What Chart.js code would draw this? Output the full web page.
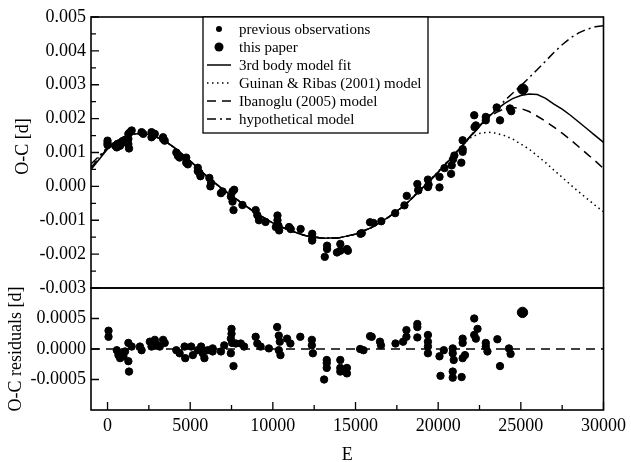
<!DOCTYPE html>
<html><head><meta charset="utf-8">
<script src="https://cdn.jsdelivr.net/npm/chart.js@4/dist/chart.umd.min.js"></script>
<style>html,body{margin:0;padding:0;background:#fff}canvas{display:block}</style>
</head><body>
<canvas id="c" width="631" height="462"></canvas>
<script>
// ---- data ----
const prevE = [0,0,0,460,560,660,760,860,960,1060,1260,1260,1260,1300,1360,1460,2060,2160,2660,2660,2760,2860,3360,3360,3460,
  4160,4260,4360,4760,4760,4860,5460,5460,5560,5620,6160,6260,6220,6860,6960,7460,7560,7560,7620,7660,8160,8960,9060,9160,9560,
  10180,10280,10280,10340,10380,10980,11080,11680,12380,12380,12380,13140,13280,13280,13880,14080,14080,14480,14540,
  15300,15380,15880,16080,16560,17400,17960,18100,18740,18800,18800,19380,19380,19420,20080,20080,20380,20780,20820,20900,20980,
  21400,21480,21480,21480,22180,22280,22200,22880,22880,23540,23740,24340,24420];
const prevOC = [0.00135,0.00128,0.00122,0.00120,0.00115,0.00125,0.00120,0.00130,0.00135,0.00130,0.00155,0.00140,0.00125,0.00112,0.00160,0.00165,0.00160,0.00155,0.00160,0.00145,0.00150,0.00155,0.00145,0.00140,0.00135,
  0.00100,0.00090,0.00085,0.00085,0.00070,0.00065,0.00055,0.00045,0.00040,0.00030,0.00025,0.00010,0.00000,-0.00020,-0.00015,-0.00030,-0.00015,-0.00045,-0.00070,-0.00010,-0.00055,-0.00070,-0.00085,-0.00100,-0.00105,
  -0.00120,-0.00086,-0.00100,-0.00116,-0.00130,-0.00120,-0.00126,-0.00126,-0.00140,-0.00155,-0.00160,-0.00208,-0.00175,-0.00185,-0.00195,-0.00170,-0.00190,-0.00185,-0.00190,
  -0.00140,-0.00138,-0.00106,-0.00108,-0.00103,-0.00079,-0.00056,-0.00028,0.00007,-0.00010,-0.00012,0.00020,-0.00002,0.00005,0.00028,-0.00003,0.00054,0.00037,0.00062,0.00080,0.00091,
  0.00070,0.00102,0.00110,0.00136,0.00210,0.00180,0.00175,0.00205,0.00195,0.00233,0.00195,0.00230,0.00222];
const paperE = [25120];
const paperOC = [0.00287];

const resE = [60,60,560,660,760,860,960,1060,1260,1260,1300,1460,1960,2060,2560,2660,2860,2960,3160,3360,3460,
  4160,4360,4660,4700,5060,5160,5460,5660,5760,5860,6060,6360,6360,6860,7060,7500,7500,7460,7460,7540,7620,7760,8060,8260,
  8960,9060,9260,9760,10260,10360,10360,10420,10460,10860,11060,11660,12360,12360,12420,13100,13260,13260,13260,
  14080,14080,14080,14480,14480,15280,15480,15880,15980,16480,16540,17420,17880,18080,18080,18740,18740,18740,
  19380,19380,19380,19380,20080,20140,20340,20880,20880,20880,20880,20940,21420,21480,21480,21480,21620,
  22180,22180,22380,22280,22880,22880,22980,23580,23740,24280,24380];
const resOC = [0.00030,0.00020,-0.00002,-0.00010,-0.00015,-0.00007,-0.00012,-0.00004,0.00010,-0.00020,-0.00037,0.00004,0.00004,-0.00002,0.00012,0.00004,0.00015,0.00007,0.00004,0.00015,0.00010,
  -0.00002,-0.00007,0.00004,-0.00015,0.00004,-0.00010,-0.00002,0.00004,-0.00007,-0.00015,-0.00002,0.00001,-0.00004,-0.00004,0.00006,0.00033,0.00025,0.00017,-0.00007,0.00010,-0.00028,0.00009,0.00009,0.00004,
  0.00020,0.00009,0.00004,0.00001,0.00036,0.00022,-0.00002,0.00012,-0.00010,0.00017,0.00009,0.00020,0.00015,0.00006,-0.00007,-0.00050,-0.00018,-0.00023,-0.00031,
  -0.00018,-0.00031,-0.00037,-0.00031,-0.00040,0.00000,-0.00002,0.00021,0.00020,0.00012,0.00006,0.00009,0.00012,0.00020,0.00031,0.00041,0.00036,0.00019,
  0.00023,0.00012,0.00004,-0.00007,-0.00012,-0.00044,-0.00002,0.00001,-0.00007,-0.00037,-0.00047,-0.00018,-0.00046,0.00017,0.00010,-0.00015,-0.00010,
  0.00050,0.00023,0.00033,0.00017,0.00010,0.00004,-0.00004,0.00016,-0.00028,0.00001,-0.00008];
const paperResE = [25100];
const paperRes = [0.00060];

const modelE = [-1000,-500,0,500,1000,1500,2000,2500,3000,3500,4000,4500,5000,6000,7000,8000,9000,10000,11000,12000,13000,14000,15000,16000,17000,18000,
  18500,19000,19500,20000,20500,21000,21500,22000,22500,23000,23500,24000,24500,25000,25500,26000,26500,27000,27500,28000,28500,29000,29500,30000];
const fit3rd = [0.00050,0.00080,0.00110,0.00132,0.00146,0.00154,0.00156,0.00153,0.00145,0.00133,0.00116,0.00096,0.00075,0.00030,-0.00010,-0.00045,-0.00080,-0.00108,-0.00130,-0.00146,-0.00153,-0.00152,-0.00141,-0.00121,-0.00091,-0.00055,
  -0.00031,-0.00007,0.00017,0.00042,0.00068,0.00095,0.00122,0.00150,0.00177,0.00203,0.00225,0.00244,0.00259,0.00268,0.00273,0.00271,0.00260,0.00243,0.00228,0.00210,0.00190,0.00170,0.00150,0.00130];
const guinanRibas = [0.00060,0.00088,0.00114,0.00133,0.00146,0.00154,0.00156,0.00153,0.00145,0.00133,0.00116,0.00096,0.00075,0.00030,-0.00010,-0.00045,-0.00080,-0.00108,-0.00130,-0.00146,-0.00153,-0.00152,-0.00141,-0.00121,-0.00091,-0.00055,
  -0.00030,-0.00006,0.00019,0.00044,0.00071,0.00097,0.00125,0.00145,0.00156,0.00160,0.00157,0.00150,0.00140,0.00125,0.00110,0.00090,0.00070,0.00048,0.00027,0.00005,-0.00016,-0.00036,-0.00056,-0.00075];
const ibanoglu = [0.00056,0.00084,0.00112,0.00133,0.00146,0.00154,0.00156,0.00153,0.00145,0.00133,0.00116,0.00096,0.00075,0.00030,-0.00010,-0.00045,-0.00080,-0.00108,-0.00130,-0.00146,-0.00153,-0.00152,-0.00141,-0.00121,-0.00091,-0.00055,
  -0.00031,-0.00007,0.00017,0.00042,0.00068,0.00095,0.00122,0.00150,0.00176,0.00200,0.00218,0.00229,0.00233,0.00230,0.00221,0.00207,0.00192,0.00175,0.00157,0.00138,0.00117,0.00096,0.00075,0.00053];
const hypothetical = [0.00066,0.00090,0.00115,0.00134,0.00147,0.00155,0.00156,0.00153,0.00145,0.00133,0.00116,0.00096,0.00075,0.00030,-0.00010,-0.00045,-0.00080,-0.00108,-0.00130,-0.00146,-0.00153,-0.00152,-0.00141,-0.00121,-0.00091,-0.00055,
  -0.00031,-0.00007,0.00017,0.00042,0.00068,0.00095,0.00123,0.00152,0.00179,0.00205,0.00228,0.00252,0.00275,0.00297,0.00321,0.00345,0.00370,0.00395,0.00418,0.00438,0.00453,0.00464,0.00471,0.00474];

const xTicks = [0,5000,10000,15000,20000,25000,30000];
const ocTicks = [-0.003,-0.002,-0.001,0,0.001,0.002,0.003,0.004,0.005];
const resTicks = [-0.0005,0,0.0005];
const legendLabels = ['previous observations','this paper','3rd body model fit','Guinan & Ribas (2001) model','Ibanoglu (2005) model','hypothetical model'];
const axisTitles = {x:'E', oc:'O-C [d]', res:'O-C residuals [d]'};

// ---- chart ----
const FONT = 'Liberation Serif';
const pts = (xs, ys) => xs.map((x, i) => ({x, y: ys[i]}));
const lineDs = (vals, dash) => ({type:'line', data: pts(modelE, vals), yAxisID:'yOC', borderColor:'#000', borderWidth:1.5,
  borderDash: dash, pointRadius:0, fill:false, tension:0, order:5});

const modelStyles = [[], [1.5,3.5], [9,6], [9,4,2,4]];

const framePlugin = {
  id:'frame',
  afterDraw(chart) {
    const ctx = chart.ctx, a = chart.chartArea;
    const sx = chart.scales.x, so = chart.scales.yOC, sr = chart.scales.yRes;
    ctx.save();
    ctx.strokeStyle = '#000'; ctx.lineWidth = 1.6;
    ctx.strokeRect(a.left, so.top, a.right - a.left, so.bottom - so.top);
    ctx.strokeRect(a.left, sr.top, a.right - a.left, sr.bottom - sr.top);
    ctx.lineWidth = 1.3;
    ctx.beginPath();
    for (let i = 0; i < ocTicks.length; i++) {
      const yv = so.getPixelForValue(ocTicks[i]);
      ctx.moveTo(a.left, yv); ctx.lineTo(a.left + 8, yv);
      if (i < ocTicks.length - 1) {
        const ym = so.getPixelForValue((ocTicks[i] + ocTicks[i+1]) / 2);
        ctx.moveTo(a.left, ym); ctx.lineTo(a.left + 5, ym);
      }
    }
    for (const v of resTicks) {
      const yv = sr.getPixelForValue(v);
      ctx.moveTo(a.left, yv); ctx.lineTo(a.left + 8, yv);
    }
    for (let i = 0; i < xTicks.length; i++) {
      const xv = sx.getPixelForValue(xTicks[i]);
      ctx.moveTo(xv, sr.bottom); ctx.lineTo(xv, sr.bottom - 8);
      if (i < xTicks.length - 1) {
        const xm = sx.getPixelForValue((xTicks[i] + xTicks[i+1]) / 2);
        ctx.moveTo(xm, sr.bottom); ctx.lineTo(xm, sr.bottom - 5);
      }
    }
    ctx.stroke();

    ctx.fillStyle = '#000';
    ctx.font = '18px "' + FONT + '"';
    ctx.textAlign = 'center'; ctx.textBaseline = 'middle';
    ctx.fillText(axisTitles.x, (a.left + a.right) / 2, 455);
    ctx.save(); ctx.translate(23, (so.top + so.bottom) / 2 - 6); ctx.rotate(-Math.PI / 2);
    ctx.fillText(axisTitles.oc, 0, 0); ctx.restore();
    ctx.save(); ctx.translate(16, (sr.top + sr.bottom) / 2); ctx.rotate(-Math.PI / 2);
    ctx.fillText(axisTitles.res, 0, 0); ctx.restore();

    const lx = 203, ly = so.top, lw = 225, lh = 116;
    ctx.fillStyle = '#fff';
    ctx.fillRect(lx, ly, lw, lh);
    ctx.strokeStyle = '#000'; ctx.lineWidth = 1.3;
    ctx.strokeRect(lx, ly, lw, lh);
    ctx.font = '15px "' + FONT + '"';
    ctx.textAlign = 'left'; ctx.textBaseline = 'middle';
    for (let i = 0; i < legendLabels.length; i++) {
      const y = ly + 12 + i * 18;
      ctx.fillStyle = '#000';
      if (i === 0 || i === 1) {
        ctx.beginPath(); ctx.arc(219, y, i === 0 ? 3 : 4.5, 0, Math.PI * 2); ctx.fill();
      } else {
        ctx.save(); ctx.lineWidth = 1.5; ctx.setLineDash(modelStyles[i - 2]);
        ctx.beginPath(); ctx.moveTo(207, y); ctx.lineTo(231, y); ctx.stroke(); ctx.restore();
      }
      ctx.fillText(legendLabels[i], 239, y + 1);
    }
    ctx.restore();
  }
};

const tickFont = {family: FONT, size: 18};
new Chart(document.getElementById('c'), {
  type: 'scatter',
  data: {datasets: [
    {data: pts(paperE, paperOC), yAxisID:'yOC', backgroundColor:'#000', borderColor:'#000', pointRadius:5.2, order:1},
    {data: pts(prevE, prevOC), yAxisID:'yOC', backgroundColor:'#000', borderColor:'#000', pointRadius:3.7, order:2},
    {data: pts(paperResE, paperRes), yAxisID:'yRes', backgroundColor:'#000', borderColor:'#000', pointRadius:5.2, order:1},
    {data: pts(resE, resOC), yAxisID:'yRes', backgroundColor:'#000', borderColor:'#000', pointRadius:3.7, order:2},
    lineDs(fit3rd, modelStyles[0]),
    lineDs(guinanRibas, modelStyles[1]),
    lineDs(ibanoglu, modelStyles[2]),
    lineDs(hypothetical, modelStyles[3]),
    {type:'line', data:[{x:-1000,y:0},{x:30000,y:0}], yAxisID:'yRes', borderColor:'#000', borderWidth:1.5, borderDash:[9,6], pointRadius:0, order:6}
  ]},
  options: {
    responsive:false, animation:false, devicePixelRatio:1,
    layout:{padding:{top:17, right:25, left:0, bottom:0}},
    plugins:{legend:{display:false}, tooltip:{enabled:false}},
    scales: {
      yRes: {type:'linear', position:'left', stack:'v', stackWeight:122, min:-0.001, max:0.001,
        afterBuildTicks: s => { s.ticks = resTicks.map(v => ({value:v})); },
        afterFit: s => { s.width = 91; },
        ticks:{font:tickFont, color:'#000', padding:5, autoSkip:false, callback: v => Number(v).toFixed(4)},
        grid:{display:false, drawTicks:false}, border:{display:false}},
      yOC: {type:'linear', position:'left', stack:'v', stackWeight:271, min:-0.003, max:0.005,
        afterBuildTicks: s => { s.ticks = ocTicks.map(v => ({value:v})); },
        afterFit: s => { s.width = 91; },
        ticks:{font:tickFont, color:'#000', padding:5, autoSkip:false, callback: v => Number(v).toFixed(3)},
        grid:{display:false, drawTicks:false}, border:{display:false}},
      x: {type:'linear', position:'bottom', min:-1000, max:30000,
        afterBuildTicks: s => { s.ticks = xTicks.map(v => ({value:v})); },
        afterFit: s => { s.height = 52; },
        ticks:{font:tickFont, color:'#000', padding:5, autoSkip:false, maxRotation:0, callback: v => String(v)},
        grid:{display:false, drawTicks:false}, border:{display:false}}
    }
  },
  plugins:[framePlugin]
});
</script>
</body></html>
